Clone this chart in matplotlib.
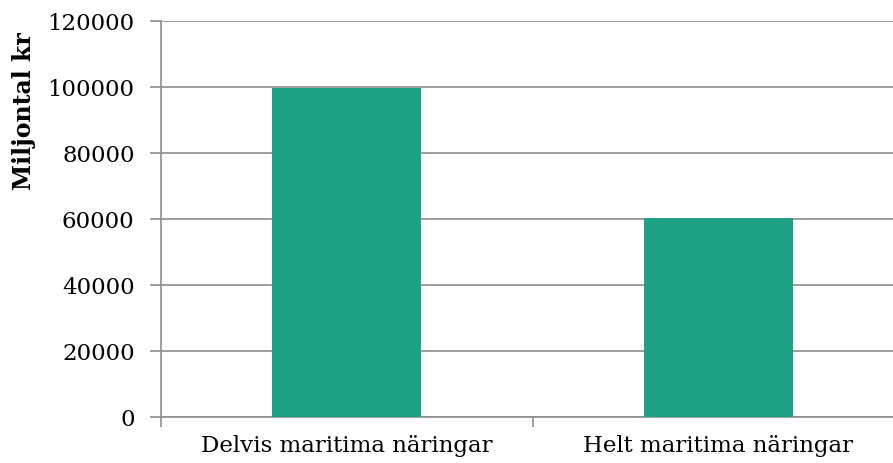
import matplotlib.pyplot as plt

categories = ["Delvis maritima näringar", "Helt maritima näringar"]
values = [99600, 60200]
yticks = [0, 20000, 40000, 60000, 80000, 100000, 120000]

plt.rcParams['font.family'] = ['DejaVu Serif']

fig = plt.figure(figsize=(8.93, 4.64), dpi=100)
# axes right edge runs past the image edge, like the reference
ax = fig.add_axes([161 / 893, (464 - 418) / 464, 743 / 893, 396 / 464])

xs = range(len(categories))
ax.bar(xs, values, width=0.4, color="#1ea185", zorder=3)

ax.set_xlim(-0.5, len(categories) - 0.5)
ax.set_ylim(0, 120000)
ax.set_yticks(yticks)
ax.set_yticklabels([str(t) for t in yticks], fontsize=16.5)
ax.yaxis.grid(True, color="#8c8c8c", linewidth=1.2, zorder=0)

ax.set_xticks([-0.5, 0.5, 1.5])
ax.set_xticklabels([])
ax.set_xticks(list(xs), minor=True)
ax.set_xticklabels(categories, minor=True, fontsize=16.5)
ax.tick_params(axis="x", which="minor", length=0, pad=12)
ax.tick_params(axis="x", which="major", length=7, color="#8c8c8c", width=1.2)
ax.tick_params(axis="y", length=8, color="#8c8c8c", width=1.2, pad=11)

for s in ["top", "right"]:
    ax.spines[s].set_visible(False)
for s in ["left", "bottom"]:
    ax.spines[s].set_color("#8c8c8c")
    ax.spines[s].set_linewidth(1.2)

fig.text(24 / 893, 1 - 111 / 464, "Miljontal kr", rotation=90, fontsize=17,
         fontweight="bold", ha="center", va="center")

fig.savefig("out.png", dpi=100)
